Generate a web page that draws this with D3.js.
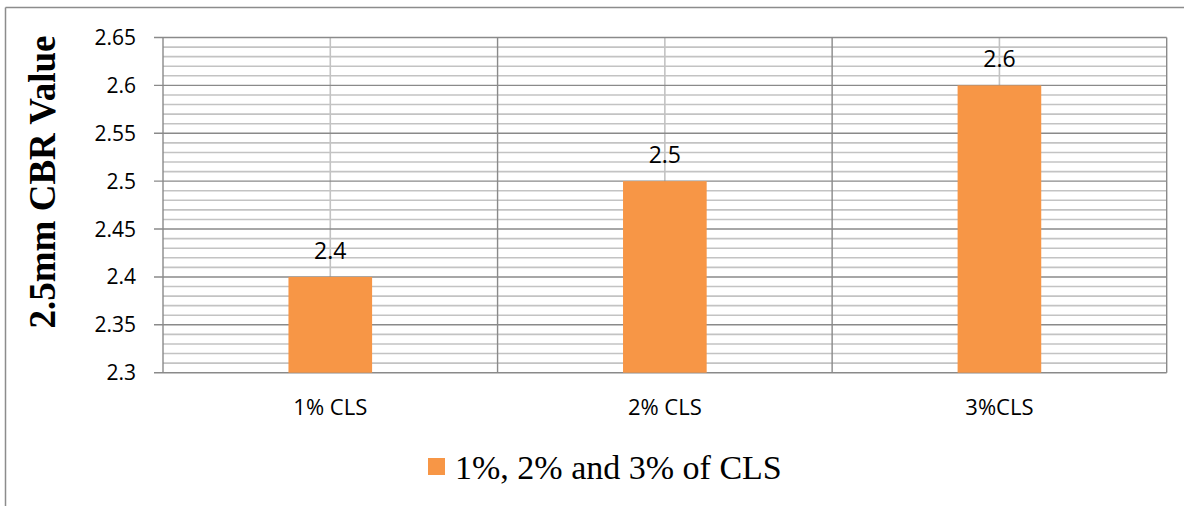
<!DOCTYPE html>
<html>
<head>
<meta charset="utf-8">
<script src="https://d3js.org/d3.v7.min.js"></script>
<style>
  body { margin: 0; background: #fff; }
  .ticklbl { font-family: 'Open Sans', sans-serif; font-size: 21px; fill: #000; }
</style>
</head>
<body>
<svg id="chart" width="1184" height="506"></svg>
<script>
// data
const categories = ['1% CLS', '2% CLS', '3%CLS']
const values = [2.4, 2.5, 2.6]
const yTicks = [2.3, 2.35, 2.4, 2.45, 2.5, 2.55, 2.6, 2.65]
const seriesName = '1%, 2% and 3% of CLS'
const barColor = '#F79646'

const svg = d3.select('svg#chart')
const plot = {left: 163, top: 37.5, right: 1166.7, bottom: 372.7}

// outer chart border (top + left visible)
svg.append('line').attr('x1', 5.5).attr('x2', 1184).attr('y1', 7.5).attr('y2', 7.5)
   .attr('stroke', '#8c8c8c').attr('stroke-width', 1.5)
svg.append('line').attr('x1', 5.5).attr('x2', 5.5).attr('y1', 7.5).attr('y2', 506)
   .attr('stroke', '#8c8c8c').attr('stroke-width', 1.5)

let x = d3.scaleBand()
          .domain(categories)
          .range([plot.left, plot.right])
          .padding(0)

let y = d3.scaleLinear()
          .domain([2.3, 2.65])
          .range([plot.bottom, plot.top])

// minor gridlines every 0.01
const minor = d3.range(231, 265).filter(v => v % 5 != 0).map(v => v / 100)
svg.append('g').selectAll('line')
   .data(minor)
   .join('line')
   .attr('x1', plot.left).attr('x2', plot.right)
   .attr('y1', d => y(d)).attr('y2', d => y(d))
   .attr('stroke', '#c3c3c3').attr('stroke-width', 1.6)

// vertical lines at category centres (light)
svg.append('g').selectAll('line')
   .data(categories)
   .join('line')
   .attr('x1', d => x(d) + x.bandwidth() / 2).attr('x2', d => x(d) + x.bandwidth() / 2)
   .attr('y1', plot.top).attr('y2', plot.bottom)
   .attr('stroke', '#c3c3c3').attr('stroke-width', 1.6)

// major gridlines + tick marks
svg.append('g').selectAll('line')
   .data(yTicks)
   .join('line')
   .attr('x1', plot.left - 9).attr('x2', plot.right)
   .attr('y1', d => y(d)).attr('y2', d => y(d))
   .attr('stroke', '#8a8a8a').attr('stroke-width', 1.4)

// vertical lines at category boundaries (dark)
const bounds = categories.map(c => x(c)).concat([plot.right])
svg.append('g').selectAll('line')
   .data(bounds)
   .join('line')
   .attr('x1', d => d).attr('x2', d => d)
   .attr('y1', plot.top).attr('y2', plot.bottom)
   .attr('stroke', '#8a8a8a').attr('stroke-width', 1.4)

// bars
const barW = x.bandwidth() * 0.25
svg.append('g').selectAll('rect')
   .data(values)
   .join('rect')
   .attr('x', (d, i) => x(categories[i]) + x.bandwidth() / 2 - barW / 2)
   .attr('width', barW)
   .attr('y', d => y(d))
   .attr('height', d => y(2.3) - y(d))
   .attr('fill', barColor)

// value labels
svg.append('g').selectAll('text')
   .data(values)
   .join('text')
   .attr('class', 'ticklbl')
   .attr('x', (d, i) => x(categories[i]) + x.bandwidth() / 2)
   .attr('y', d => y(d) - 18)
   .attr('text-anchor', 'middle')
   .style('font-size', '23px')
   .text(d => d)

// y tick labels
svg.append('g').selectAll('text')
   .data(yTicks)
   .join('text')
   .attr('class', 'ticklbl')
   .attr('x', plot.left - 27)
   .attr('y', d => y(d) + 7.5)
   .attr('text-anchor', 'end')
   .text(d => d)

// category labels
svg.append('g').selectAll('text')
   .data(categories)
   .join('text')
   .attr('class', 'ticklbl')
   .attr('x', d => x(d) + x.bandwidth() / 2)
   .attr('y', 415)
   .attr('text-anchor', 'middle')
   .style('font-size', '22px')
   .text(d => d)

// y axis title
svg.append('text')
   .attr('transform', 'translate(55,182) rotate(-90)')
   .attr('text-anchor', 'middle')
   .style('font-family', "'Liberation Serif', 'Times New Roman', serif")
   .style('font-weight', 'bold')
   .style('font-size', '37px')
   .text('2.5mm CBR Value')

// legend
const lg = svg.append('g').attr('transform', 'translate(428,458)')
lg.append('rect').attr('width', 17).attr('height', 17).attr('fill', barColor)
lg.append('text')
  .attr('x', 27).attr('y', 21)
  .style('font-family', "'Liberation Serif', 'Times New Roman', serif")
  .style('font-size', '34px')
  .text(seriesName)
</script>
</body>
</html>
